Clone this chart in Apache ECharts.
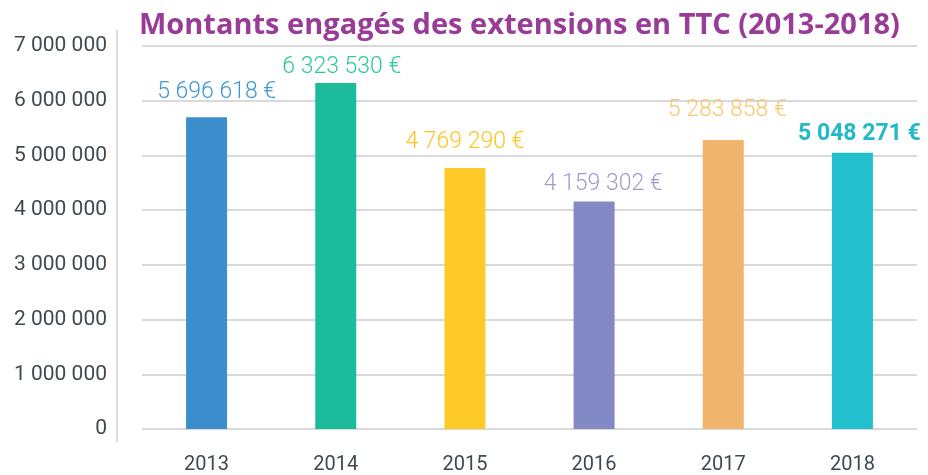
<!DOCTYPE html>
<html>
<head>
<meta charset="utf-8">
<script src="https://cdn.jsdelivr.net/npm/echarts@6/dist/echarts.min.js"></script>
<style>
html,body{margin:0;padding:0;background:#fff;}
#c{width:928px;height:475px;}
</style>
</head>
<body>
<div id="c"></div>
<script>
const titleText = 'Montants engagés des extensions en TTC (2013-2018)';
const years = ['2013','2014','2015','2016','2017','2018'];
const amounts = [5696618, 6323530, 4769290, 4159302, 5283858, 5048271];
const barColors = ['#3b8dcb','#1abc9c','#fdca27','#8289c4','#f0b46c','#22bfcf'];
const labelColors = ['#3d98d3','#2ecc91','#fdc51d','#9a9ecf','#fbc66f','#22b9c9'];
const labelOffsets = [[10,-6],[6,4],[0,-6],[9,2],[4,-10],[7,1]];
const yTicks = [0,1000000,2000000,3000000,4000000,5000000,6000000,7000000];

function fmt(n){
  return String(n).replace(/\B(?=(\d{3})+(?!\d))/g,' ');
}

const chart = echarts.init(document.getElementById('c'));
chart.setOption({
  backgroundColor:'#fff',
  animation:false,
  title:{
    text:titleText,
    left:134, top:6,
    textStyle:{color:'#983c98', fontFamily:'Open Sans', fontWeight:'bold', fontSize:29}
  },
  grid:{left:142, right:11, top:46, bottom:45},
  graphic:[{type:'line', shape:{x1:117,y1:30,x2:117,y2:442}, style:{stroke:'#cfcfcf', lineWidth:1.5}}],
  xAxis:{
    type:'category', data:years,
    axisLine:{show:false}, axisTick:{show:false},
    axisLabel:{color:'#3f4a50', fontFamily:'Roboto', fontSize:20, margin:26}
  },
  yAxis:{
    type:'value', min:yTicks[0], max:yTicks[yTicks.length-1], interval:1000000,
    axisLine:{show:false}, axisTick:{show:false},
    splitLine:{lineStyle:{color:'#d9d9d9', width:2}},
    axisLabel:{color:'#3f4a50', fontFamily:'Roboto', fontSize:21, margin:35, formatter:v=>fmt(v)}
  },
  series:[{
    type:'bar', barWidth:41,
    data:amounts.map((v,i)=>({
      value:v,
      itemStyle:{color:barColors[i]},
      label:{
        show:true, position:'top', distance:8,
        offset:labelOffsets[i],
        color:labelColors[i],
        fontFamily:'Roboto', fontWeight: i===5 ? 'bold':300, fontSize:23,
        formatter:p=>fmt(p.value)+' €'
      }
    }))
  }]
});
</script>
</body>
</html>
